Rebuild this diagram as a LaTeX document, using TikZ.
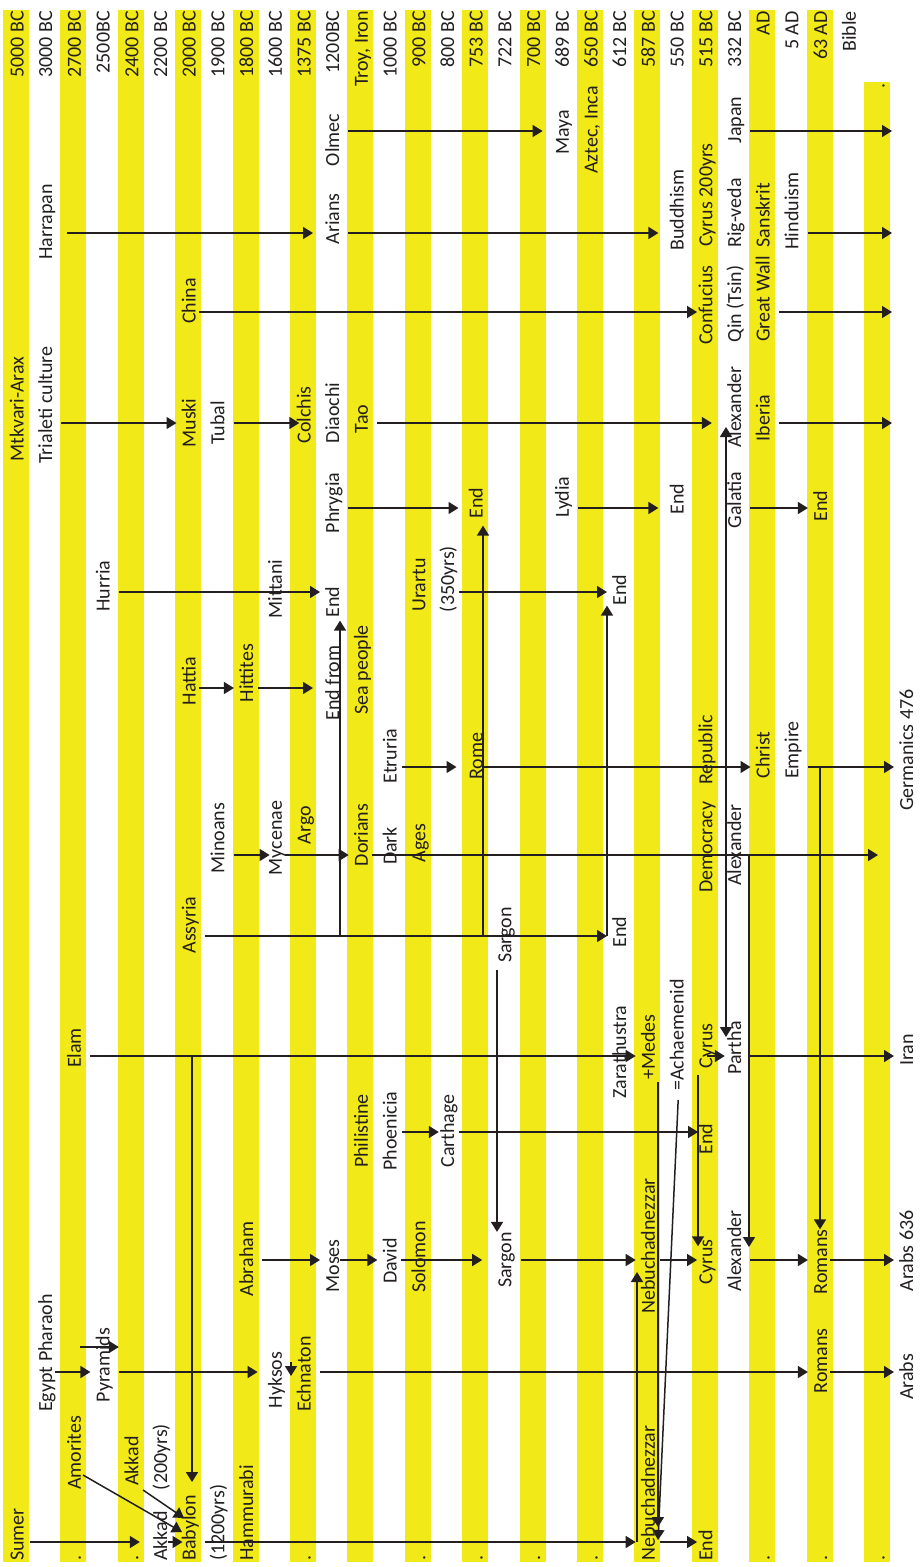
\documentclass[tikz,border=0pt]{standalone}
\usepackage{fontspec}
\setmainfont{Carlito}
\usetikzlibrary{arrows.meta}
\definecolor{tlyellow}{RGB}{242,234,24}
\definecolor{tlink}{RGB}{35,31,32}
\newcommand{\colx}[1]{18.5+28.7*#1}

\begin{document}
\begin{tikzpicture}[
  x=1pt, y=-1pt,
  band/.style={fill=tlyellow},
  lbl/.style={rotate=90, font=\fontsize{20}{24}\selectfont, text=tlink,
              inner xsep=0pt, inner ysep=4pt, text height=15pt, text depth=5pt},
  toplbl/.style={lbl, anchor=east},
  botlbl/.style={lbl, anchor=west},
  arrow/.style={-{Triangle[length=10pt,width=12pt]}, line width=1.5pt, color=tlink},
  twoway/.style={{Triangle[length=10pt,width=12pt]}-{Triangle[length=10pt,width=12pt]}, line width=1.5pt, color=tlink},
]
  \useasboundingbox (0,0) rectangle (919,1567);

  % yellow columns
  \foreach \k in {0,...,14}
    \fill[band] ({3+57.4*\k},10) rectangle +(26,1552);
  \fill[band] (864,82) rectangle (890,1562);

  % dates along the top
  \foreach \t [count=\i from 0] in {5000 BC, 3000 BC, 2700 BC, 2500BC, 2400 BC, 2200 BC, 2000 BC, 1900 BC, 1800 BC, 1600 BC, 1375 BC, 1200BC, {Troy, Iron}, 1000 BC, 900 BC, 800 BC, 753 BC, 722 BC, 700 BC, 689 BC, 650 BC, 612 BC, 587 BC, 550 BC, 515 BC, 332 BC, AD, 5 AD, 63 AD, Bible}
    \node[toplbl] (d\i) at ({\colx{\i}},11) {\t};
  \node[toplbl] (dottop) at ({\colx{30}},83) {.};

  % bottom line
  \node[botlbl] (sumer) at ({\colx{0}},1561) {Sumer};
  \node[botlbl] (akkadB) at ({\colx{5}},1561) {Akkad};
  \node[botlbl] (babylon) at ({\colx{6}},1561) {Babylon};
  \node[botlbl] (yrs1200) at ({\colx{7}},1561) {(1200yrs)};
  \node[botlbl] (hammurabi) at ({\colx{8}},1561) {Hammurabi};
  \node[botlbl] (nebB) at ({\colx{22}},1561) {Nebuchadnezzar};
  \node[botlbl] (endNeb) at ({\colx{24}},1561) {End};
  \foreach \i in {2,4,10,14,16,18,20,26,28,30}
    \node[botlbl] (dot\i) at ({\colx{\i}},1561) {.};

  % events
  \node[lbl] (olmec) at ({\colx{11}},140) {Olmec};
  \node[lbl] (maya) at ({\colx{19}},132) {Maya};
  \node[lbl] (aztec) at ({\colx{20}},130) {Aztec, Inca};
  \node[lbl] (japan) at ({\colx{25}},120) {Japan};
  \node[lbl] (harrapan) at ({\colx{1}},222) {Harrapan};
  \node[lbl] (arians) at ({\colx{11}},219) {Arians};
  \node[lbl] (buddhism) at ({\colx{23}},210) {Buddhism};
  \node[lbl] (cyrusyrs) at ({\colx{24}},195) {Cyrus 200yrs};
  \node[lbl] (rigveda) at ({\colx{25}},213) {Rig-veda};
  \node[lbl] (sanskrit) at ({\colx{26}},215) {Sanskrit};
  \node[lbl] (hinduism) at ({\colx{27}},211) {Hinduism};
  \node[lbl] (china) at ({\colx{6}},301) {China};
  \node[lbl] (confucius) at ({\colx{24}},305) {Confucius};
  \node[lbl] (qin) at ({\colx{25}},304) {Qin (Tsin)};
  \node[lbl] (greatwall) at ({\colx{26}},299) {Great Wall};
  \node[lbl] (mtkvari) at ({\colx{0}},409) {Mtkvari-Arax};
  \node[lbl] (trialeti) at ({\colx{1}},405) {Trialeti culture};
  \node[lbl] (muski) at ({\colx{6}},423) {Muski};
  \node[lbl] (tubal) at ({\colx{7}},423) {Tubal};
  \node[lbl] (colchis) at ({\colx{10}},415) {Colchis};
  \node[lbl] (diaochi) at ({\colx{11}},413) {Diaochi};
  \node[lbl] (tao) at ({\colx{12}},419) {Tao};
  \node[lbl] (alexA) at ({\colx{25}},407) {Alexander};
  \node[lbl] (iberia) at ({\colx{26}},418) {Iberia};
  \node[lbl] (phrygia) at ({\colx{11}},503) {Phrygia};
  \node[lbl] (endPhrygia) at ({\colx{16}},503) {End};
  \node[lbl] (lydia) at ({\colx{19}},497) {Lydia};
  \node[lbl] (endLydia) at ({\colx{23}},499) {End};
  \node[lbl] (galatia) at ({\colx{25}},500) {Galatia};
  \node[lbl] (endGalatia) at ({\colx{28}},506) {End};
  \node[lbl] (hurria) at ({\colx{3}},586) {Hurria};
  \node[lbl] (mittani) at ({\colx{9}},589) {Mittani};
  \node[lbl] (endHurria) at ({\colx{11}},602) {End};
  \node[lbl] (urartu) at ({\colx{14}},585) {Urartu};
  \node[lbl] (yrs350) at ({\colx{15}},579) {(350yrs)};
  \node[lbl] (endUrartu) at ({\colx{21}},590) {End};
  \node[lbl] (hattia) at ({\colx{6}},681) {Hattia};
  \node[lbl] (hittites) at ({\colx{8}},673) {Hittites};
  \node[lbl] (endfrom) at ({\colx{11}},683) {End from};
  \node[lbl] (seapeople) at ({\colx{12}},670) {Sea people};
  \node[lbl] (germanics) at ({\colx{31}},750) {Germanics 476};
  \node[lbl] (etruria) at ({\colx{13}},756) {Etruria};
  \node[lbl] (rome) at ({\colx{16}},756) {Rome};
  \node[lbl] (republic) at ({\colx{24}},750) {Republic};
  \node[lbl] (christ) at ({\colx{26}},755) {Christ};
  \node[lbl] (empire) at ({\colx{27}},750) {Empire};
  \node[lbl] (minoans) at ({\colx{7}},838) {Minoans};
  \node[lbl] (mycenae) at ({\colx{9}},838) {Mycenae};
  \node[lbl] (argo) at ({\colx{10}},825) {Argo};
  \node[lbl] (dorians) at ({\colx{12}},835) {Dorians};
  \node[lbl] (dark) at ({\colx{13}},846) {Dark};
  \node[lbl] (ages) at ({\colx{14}},843) {Ages};
  \node[lbl] (democracy) at ({\colx{24}},847) {Democracy};
  \node[lbl] (alexB) at ({\colx{25}},845) {Alexander};
  \node[lbl] (assyria) at ({\colx{6}},925) {Assyria};
  \node[lbl] (sargonA) at ({\colx{17}},935) {Sargon};
  \node[lbl] (endAssyria) at ({\colx{21}},932) {End};
  \node[lbl] (elam) at ({\colx{2}},1048) {Elam};
  \node[lbl] (zarathustra) at ({\colx{21}},1052) {Zarathustra};
  \node[lbl] (medes) at ({\colx{22}},1047) {+Medes};
  \node[lbl] (achaemenid) at ({\colx{23}},1035) {=Achaemenid};
  \node[lbl] (cyrusA) at ({\colx{24}},1046) {Cyrus};
  \node[lbl] (partha) at ({\colx{25}},1048) {Partha};
  \node[lbl] (iran) at ({\colx{31}},1050) {Iran};
  \node[lbl] (philistine) at ({\colx{12}},1131) {Philistine};
  \node[lbl] (phoenicia) at ({\colx{13}},1131) {Phoenicia};
  \node[lbl] (carthage) at ({\colx{15}},1131) {Carthage};
  \node[lbl] (endCarthage) at ({\colx{24}},1139) {End};
  \node[lbl] (abraham) at ({\colx{8}},1259) {Abraham};
  \node[lbl] (moses) at ({\colx{11}},1266) {Moses};
  \node[lbl] (david) at ({\colx{13}},1261) {David};
  \node[lbl] (solomon) at ({\colx{14}},1257) {Solomon};
  \node[lbl] (sargonB) at ({\colx{17}},1260) {Sargon};
  \node[lbl] (nebA) at ({\colx{22}},1246) {Nebuchadnezzar};
  \node[lbl] (cyrusB) at ({\colx{24}},1262) {Cyrus};
  \node[lbl] (alexC) at ({\colx{25}},1251) {Alexander};
  \node[lbl] (romansA) at ({\colx{28}},1262) {Romans};
  \node[lbl] (arabs636) at ({\colx{31}},1251) {Arabs 636};
  \node[lbl] (egypt) at ({\colx{1}},1353) {Egypt Pharaoh};
  \node[lbl] (pyramids) at ({\colx{3}},1365) {Pyramids};
  \node[lbl] (hyksos) at ({\colx{9}},1380) {Hyksos};
  \node[lbl] (echnaton) at ({\colx{10}},1374) {Echnaton};
  \node[lbl] (romansB) at ({\colx{28}},1361) {Romans};
  \node[lbl] (arabs) at ({\colx{31}},1377) {Arabs};
  \node[lbl] (amorites) at ({\colx{2}},1453) {Amorites};
  \node[lbl] (akkadA) at ({\colx{4}},1461) {Akkad};
  \node[lbl] (yrs200) at ({\colx{5}},1457) {(200yrs)};

  % rows of the arrows
  \coordinate (rA) at (0,131);
  \coordinate (rB) at (0,233);
  \coordinate (rC) at (0,312);
  \coordinate (rD) at (0,423);
  \coordinate (rE) at (0,508);
  \coordinate (rF) at (0,592);
  \coordinate (rG) at (0,688);
  \coordinate (rH) at (0,767);
  \coordinate (rI) at (0,855);
  \coordinate (rJ) at (0,936);
  \coordinate (rK) at (0,1056);
  \coordinate (rL) at (0,1132);
  \coordinate (rM) at (0,1260);
  \coordinate (rN) at (0,1347);
  \coordinate (rO) at (0,1372);
  \coordinate (rP) at (0,1542);
  \coordinate (edge) at (892,0);
  \coordinate (darkend) at (878,855);
  \coordinate (pyrstart) at (80,1347);
  \coordinate (hyktop) at (0,1362);
  \coordinate (amoout) at (83,1475);
  \coordinate (babin) at (182,1532);
  \coordinate (akkout) at (143,1490);
  \coordinate (babin2) at (184,1518);
  \coordinate (elamdrop) at (192,1056);
  \coordinate (seaup) at (340,936);
  \coordinate (romeup) at (483,936);
  \coordinate (urartuup) at (607,936);
  \coordinate (sargondrop) at (497,0);
  \coordinate (alexlink) at (726,0);
  \coordinate (iondrop) at (749,855);
  \coordinate (romedrop) at (820,767);
  \coordinate (nebrise) at (637,1542);
  \coordinate (medesdrop) at (658,0);
  \coordinate (achtip) at (658,1540);
  \coordinate (cyrusdrop) at (698,0);

  \draw[arrow, shorten >=7pt] (olmec.south |- rA) -- (maya.north |- rA);
  \draw[arrow] (japan.south |- rA) -- (edge |- rA);
  \draw[arrow, shorten <=6pt, shorten >=7pt] (harrapan.south |- rB) -- (arians.north |- rB);
  \draw[arrow, shorten >=6pt] (arians.south |- rB) -- (buddhism.north |- rB);
  \draw[arrow] (hinduism.south |- rB) -- (edge |- rB);
  \draw[arrow, shorten <=-6pt, shorten >=-4pt] (china.south |- rC) -- (confucius.north |- rC);
  \draw[arrow] (greatwall.south |- rC) -- (edge |- rC);
  \draw[arrow] (trialeti.south |- rD) -- (muski.north |- rD);
  \draw[arrow, shorten >=-8pt] (tubal.south |- rD) -- (colchis.north |- rD);
  \draw[arrow, shorten >=10pt] (tao.south |- rD) -- (alexA.north |- rD);
  \draw[arrow] (iberia.south |- rD) -- (edge |- rD);
  \draw[arrow, shorten >=5pt] (phrygia.south |- rE) -- (endPhrygia.north |- rE);
  \draw[arrow, shorten >=6pt] (lydia.south |- rE) -- (endLydia.north |- rE);
  \draw[arrow] (galatia.south |- rE) -- (endGalatia.north |- rE);
  \draw[arrow] (hurria.south |- rF) -- (endHurria.north |- rF);
  \draw[arrow, shorten <=-4pt] (yrs350.south |- rF) -- (endUrartu.north |- rF);
  \draw[arrow, shorten <=-6pt] (hattia.south |- rG) -- (hittites.north |- rG);
  \draw[arrow, shorten <=-4pt, shorten >=7pt] (hittites.south |- rG) -- (endfrom.north |- rG);
  \draw[arrow, shorten <=-4pt, shorten >=7pt] (etruria.south |- rH) -- (rome.north |- rH);
  \draw[arrow] (romeup |- rH) -- (christ.north |- rH);
  \draw[arrow] (empire.south |- rH) -- (germanics.north |- rH);
  \draw[arrow, shorten >=-7pt] (minoans.south |- rI) -- (mycenae.north |- rI);
  \draw[arrow, shorten <=-6pt] (mycenae.south |- rI) -- (dorians.north |- rI);
  \draw[arrow, shorten <=-5pt] (dorians.south |- rI) -- (darkend);
  \draw[arrow] (assyria.south |- rJ) -- (endAssyria.north |- rJ);
  \draw[arrow] (elam.south |- rK) -- (medes.north |- rK);
  \draw[arrow, shorten >=-3pt] (cyrusA |- rK) -- (partha.north |- rK);
  \draw[arrow] (partha.south |- rK) -- (iran.north |- rK);
  \draw[arrow, shorten <=-4pt, shorten >=-4pt] (phoenicia.south |- rL) -- (carthage.north |- rL);
  \draw[arrow, shorten <=-4pt, shorten >=-5pt] (carthage.south |- rL) -- (endCarthage.north |- rL);
  \draw[arrow] (abraham.south |- rM) -- (moses.north |- rM);
  \draw[arrow, shorten <=-8pt] (moses.south |- rM) -- (david.north |- rM);
  \draw[arrow, shorten <=-5pt, shorten >=10pt] (david.south |- rM) -- (sargonB.north |- rM);
  \draw[arrow] (sargonB.south |- rM) -- (nebA.north |- rM);
  \draw[arrow, shorten <=-4pt, shorten >=-4pt] (nebA.south |- rM) -- (cyrusB.north |- rM);
  \draw[arrow] (alexC.south |- rM) -- (romansA.north |- rM);
  \draw[arrow, shorten <=-6pt] (romansA.south |- rM) -- (arabs636.north |- rM);
  \draw[arrow] (pyrstart) -- (pyramids.south |- rN);
  \draw[arrow, shorten <=-6pt] (egypt.south |- rO) -- (pyramids.north |- rO);
  \draw[arrow, shorten >=5pt] (pyramids.south |- rO) -- (hyksos.north |- rO);
  \draw[arrow, shorten >=-4pt] (hyksos.south |- hyktop) -- (hyksos.south |- rO);
  \draw[arrow] (echnaton.south |- rO) -- (romansB.north |- rO);
  \draw[arrow, shorten <=-6pt] (romansB.south |- rO) -- (arabs.north |- rO);
  \draw[arrow, shorten <=-3pt, shorten >=8pt] (sumer.south |- rP) -- (akkadB.north |- rP);
  \draw[arrow, shorten <=6pt, shorten >=-6pt] (akkadB |- rP) -- (babylon.north |- rP);
  \draw[arrow] (babylon.south |- rP) -- (nebB.north |- rP);
  \draw[arrow, shorten <=-4pt, shorten >=-4pt] (nebB.south |- rP) -- (endNeb.north |- rP);
  \draw[arrow] (amoout) -- (babin);
  \draw[arrow] (akkout) -- (babin2);

  % vertical links
  \draw[arrow, shorten >=13pt] (elamdrop) -- (elamdrop |- babylon.east);
  \draw[arrow, shorten >=3pt] (seaup) -- (seaup |- endHurria.west);
  \draw[arrow, shorten >=7pt] (romeup) -- (romeup |- endPhrygia.west);
  \draw[arrow] (urartuup) -- (urartuup |- endUrartu.west);
  \draw[arrow, shorten <=7pt] (sargondrop |- sargonA.west) -- (sargondrop |- sargonB.east);
  \draw[twoway, shorten <=4pt, shorten >=19pt] (alexlink |- rD) -- (alexlink |- rK);
  \draw[arrow, shorten >=13pt] (iondrop) -- (iondrop |- rM);
  \draw[arrow] (romedrop) -- (romedrop |- romansA.east);
  \draw[arrow, shorten >=12pt] (nebrise) -- (nebrise |- rM);
  \draw[arrow, shorten <=2pt, shorten >=15pt] (medesdrop |- medes.west) -- (medesdrop |- rP);
  \draw[arrow, shorten <=9pt] (achaemenid.west) -- (achtip);
  \draw[arrow, shorten <=6pt, shorten >=-7pt] (cyrusdrop |- cyrusA.west) -- (cyrusdrop |- cyrusB.east);
\end{tikzpicture}
\end{document}
